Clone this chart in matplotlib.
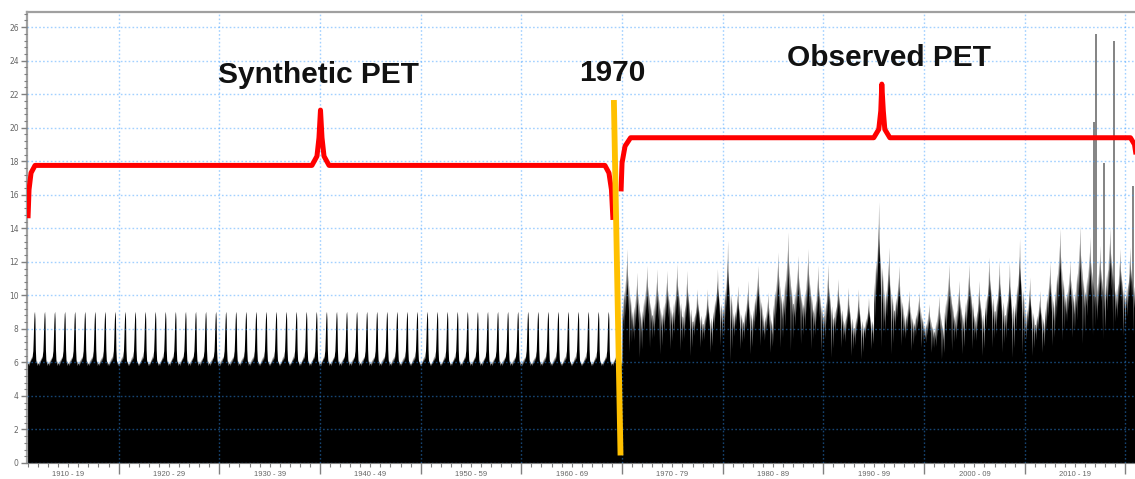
import numpy as np
import matplotlib.pyplot as plt
from matplotlib.ticker import MultipleLocator
import matplotlib.transforms as mtransforms

# Data
# synthetic PET: one repeated annual cycle (24 half-month values)
synth_years = list(range(1910, 1970))
synth_profile = [6.0, 5.8, 6.1, 5.9, 6.2, 6.0, 6.3, 6.1, 6.4, 6.2, 6.5, 6.7,
                 7.4, 8.3, 8.9, 9.05, 8.6, 6.8, 6.2, 6.0, 6.1, 5.8, 6.0, 5.9]

# observed PET: yearly peak / yearly low
obs_years = list(range(1970, 2022))
obs_peak = [12.8, 11.4, 11.8, 11.6, 11.5, 11.9, 11.5, 10.4, 10.4, 11.6,
            13.3, 10.6, 10.9, 11.8, 10.2, 12.6, 13.8, 12.4, 12.8, 11.8,
            11.9, 11.0, 10.5, 10.4, 9.9, 15.6, 12.9, 11.8, 10.3, 10.2,
            9.5, 10.0, 11.9, 10.9, 11.9, 10.9, 12.3, 12.1, 12.0, 13.4,
            11.1, 10.3, 12.0, 14.0, 12.1, 14.2, 13.5, 13.0, 14.1, 12.8,
            12.9, 12.0]
obs_low = [6.6, 6.3, 6.9, 6.5, 6.8, 6.7, 6.4, 6.9, 6.6, 7.0,
           6.1, 6.8, 6.5, 7.0, 6.6, 6.9, 6.7, 7.1, 6.8, 6.6,
           6.3, 6.9, 6.4, 6.2, 6.8, 6.9, 6.5, 7.0, 6.7, 6.9,
           6.6, 6.2, 6.7, 6.5, 6.8, 6.4, 6.9, 6.6, 6.3, 6.5,
           6.4, 6.6, 7.0, 7.3, 7.5, 7.1, 7.6, 7.4, 7.8, 7.6,
           7.7, 7.6]
# relative position inside each year between low (0) and peak (1)
obs_shape = [0.45, 0.30, 0.55, 0.20, 0.50, 0.60, 0.35, 0.70, 0.45, 0.85, 0.55, 1.00,
             0.60, 0.75, 0.40, 0.65, 0.50, 0.00, 0.45, 0.55, 0.30, 0.50, 0.10, 0.40]

# isolated extreme daily values
spike_x = [2016.9, 2017.1, 2017.9, 2018.9, 2020.8]
spike_y = [20.35, 25.6, 17.9, 25.2, 16.5]

# annotation braces and the 1970 divider
synth_brace_x = [1911.0, 1911.1, 1911.3, 1911.7, 1939.2, 1939.7, 1939.9, 1940.05,
                 1940.2, 1940.4, 1940.9, 1968.3, 1968.7, 1968.95, 1969.1]
synth_brace_y = [14.6, 16.3, 17.3, 17.75, 17.75, 18.3, 19.4, 21.05,
                 19.4, 18.3, 17.75, 17.75, 17.3, 16.3, 14.5]
obs_brace_x = [1969.9, 1970.0, 1970.3, 1970.85, 1995.0, 1995.5, 1995.7, 1995.8,
               1995.95, 1996.1, 1996.6, 2020.5, 2020.9, 2021.15, 2021.35]
obs_brace_y = [16.2, 17.9, 18.9, 19.4, 19.4, 19.9, 21.0, 22.6,
               21.0, 19.9, 19.4, 19.4, 19.0, 18.0, 16.1]
divider_x = [1969.19, 1969.85]
divider_y = [21.65, 0.45]

decades = list(range(1910, 2030, 10))
decade_labels = [f"{d} - {str(d + 9)[-2:]}" for d in range(1910, 2020, 10)]

# build the plotted series
n = len(synth_profile)
t_syn = np.array([y + (i + 0.5) / n for y in synth_years for i in range(n)])
v_syn = np.tile(synth_profile, len(synth_years))
m = len(obs_shape)
t_obs = np.array([y + (i + 0.5) / m for y in obs_years for i in range(m)])
v_obs = np.array([lo + (pk - lo) * s for pk, lo in zip(obs_peak, obs_low) for s in obs_shape])
t_all = np.concatenate([t_syn, t_obs])
v_all = np.concatenate([v_syn, v_obs])

fig = plt.figure(figsize=(11.35, 4.79), dpi=100)
ax = fig.add_axes([27 / 1135, 16 / 479, 1.004 - 27 / 1135, (463 - 12) / 479])

ax.vlines(spike_x, 0, spike_y, color='#7a7a7a', linewidth=1.3, zorder=1)
ax.fill_between(t_all, 0, v_all, color='black', linewidth=0, zorder=2)

# grid on top of the data, as in the original
ax.grid(True, which='major', linestyle=(0, (1.2, 1.6)), color='#3399ff', alpha=0.45, linewidth=1.0, zorder=3)
ax.set_axisbelow(False)

ax.plot(synth_brace_x, synth_brace_y, color='#ff0000', linewidth=3.6, solid_capstyle='butt', zorder=5)
ax.plot(obs_brace_x, obs_brace_y, color='#ff0000', linewidth=3.6, solid_capstyle='butt', zorder=5)
ax.plot(divider_x, divider_y, color='#ffc000', linewidth=4.2, solid_capstyle='butt', zorder=6)

txt = dict(fontsize=21.5, fontweight='bold', family='Liberation Sans', color='#111111',
           ha='center', va='center', zorder=7)
ax.text(1939.9, 23.14, 'Synthetic PET', **txt)
ax.text(1969.0, 23.26, '1970', **txt)
ax.text(1996.5, 24.15, 'Observed PET', **txt)

# axes styling
ax.set_xticks(decades)
ax.set_xticklabels([])
ax.set_xticks(range(1911, 2022), minor=True)
ax.yaxis.set_major_locator(MultipleLocator(2))
ax.yaxis.set_minor_locator(MultipleLocator(0.4))
ax.set_xlim(1910.9, 2021.4)
ax.set_ylim(0, 26.9)
ax.tick_params(axis='x', which='major', length=8, width=1, color='#808080')
ax.tick_params(axis='x', which='minor', length=3, width=0.8, color='#808080')
ax.tick_params(axis='y', which='major', length=4, width=1, color='#808080',
               labelsize=5.5, labelcolor='#666666', pad=2)
ax.tick_params(axis='y', which='minor', length=2.5, width=0.8, color='#808080')

trans = mtransforms.blended_transform_factory(ax.transData, ax.transAxes)
for d, lab in zip(decades, decade_labels):
    ax.text(d + 5, -0.025, lab, transform=trans, ha='center', va='center',
            fontsize=5.5, color='#666666', family='Liberation Sans')

for side in ['left', 'top']:
    ax.spines[side].set_color('#a0a0a0')
    ax.spines[side].set_linewidth(1.6)
ax.spines['bottom'].set_color('#808080')
ax.spines['right'].set_visible(False)

plt.savefig('out.png', dpi=100)
